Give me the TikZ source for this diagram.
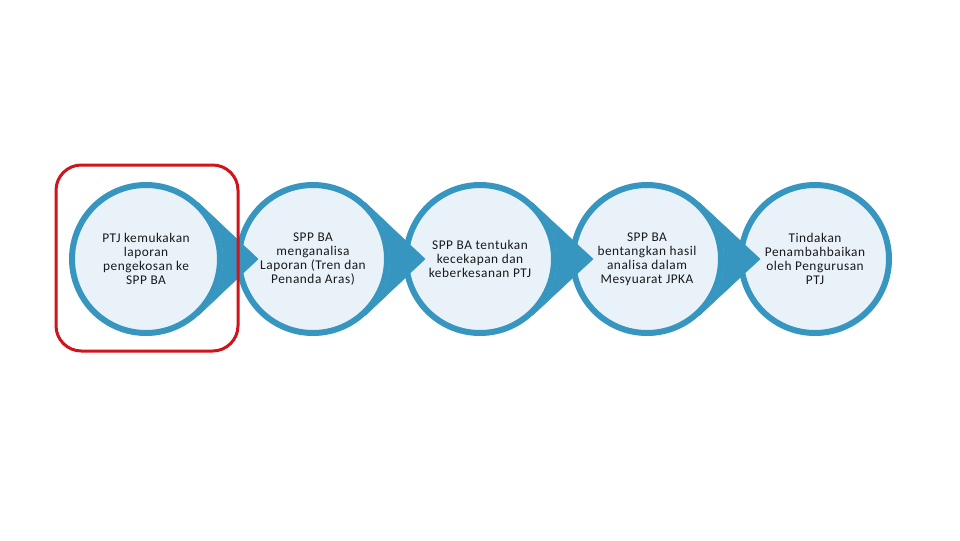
\documentclass[tikz,border=0pt]{standalone}
\usepackage{fontspec}
\setmainfont[LetterSpace=4]{Carlito}
\usepackage{tikz}
\definecolor{biru}{HTML}{3796C0}
\definecolor{birumuda}{HTML}{E8F2F8}
\definecolor{merah}{HTML}{D0141A}
\tikzstyle{langkah}=[circle, draw=biru, fill=birumuda, line width=4.5pt, minimum size=111pt, inner sep=0pt, align=center, text=black!90, font=\fontsize{10}{10.5}\selectfont]
\providecommand{\langkah}{\node[langkah]}
\tikzstyle{ekor}=[draw=biru, fill=biru, line width=0.4pt,
    to path={(\tikztostart.47) -- (\tikztotarget) -- (\tikztostart.-47) arc[start angle=-47, end angle=47, radius=57.75pt] -- cycle}]

\begin{document}
\begin{tikzpicture}[x=0.75pt, y=0.75pt]
\useasboundingbox (0,0) rectangle (960,-540);
\langkah (p1) at (146,-259) {PTJ kemukakan\\laporan\\pengekosan ke\\SPP BA};
\langkah (p2) at (313,-259) {SPP BA\\menganalisa\\Laporan (Tren dan\\Penanda Aras)};
\langkah (p3) at (480,-259) {SPP BA tentukan\\kecekapan dan\\keberkesanan PTJ};
\langkah (p4) at (647,-259) {SPP BA\\bentangkan hasil\\analisa dalam\\Mesyuarat JPKA};
\langkah (p5) at (815,-259) {Tindakan\\Penambahbaikan\\oleh Pengurusan\\PTJ};
\coordinate (hujung1) at (258,-259);
\coordinate (hujung2) at (425,-259);
\coordinate (hujung3) at (593,-259);
\coordinate (hujung4) at (760,-259);
\path
(p1) edge[ekor] (hujung1)
(p2) edge[ekor] (hujung2)
(p3) edge[ekor] (hujung3)
(p4) edge[ekor] (hujung4)
;
\draw[merah, line width=2.25pt, rounded corners=19pt] (56,-165) rectangle (238,-351);
\end{tikzpicture}
\end{document}
